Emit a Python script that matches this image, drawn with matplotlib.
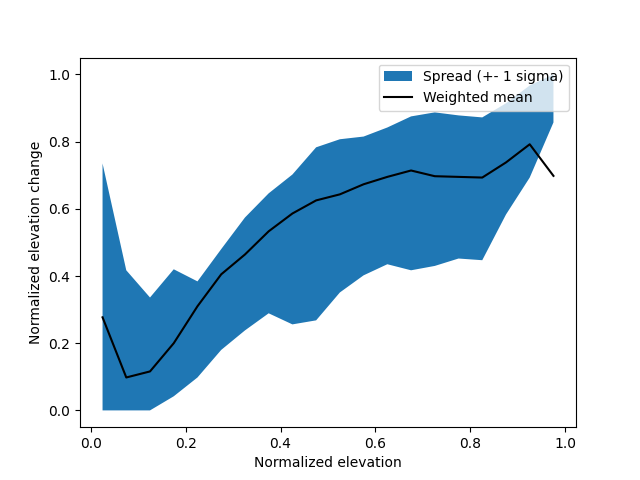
import matplotlib
matplotlib.use('Agg')
import matplotlib.pyplot as plt

elev = [0.025, 0.075, 0.125, 0.175, 0.225, 0.275, 0.325, 0.375, 0.425, 0.475,
        0.525, 0.575, 0.625, 0.675, 0.725, 0.775, 0.825, 0.875, 0.925, 0.975]
mean = [0.277, 0.098, 0.116, 0.200, 0.310, 0.405, 0.464, 0.533, 0.586, 0.625,
        0.643, 0.673, 0.695, 0.714, 0.697, 0.695, 0.693, 0.738, 0.792, 0.698]
upper = [0.735, 0.417, 0.336, 0.420, 0.384, 0.480, 0.574, 0.646, 0.702, 0.783,
         0.807, 0.815, 0.842, 0.875, 0.887, 0.878, 0.872, 0.914, 0.967, 1.000]
lower = [0.000, 0.000, 0.000, 0.042, 0.098, 0.180, 0.238, 0.289, 0.256, 0.268,
         0.351, 0.402, 0.435, 0.417, 0.430, 0.452, 0.447, 0.583, 0.693, 0.857]

fig, ax = plt.subplots(figsize=(6.4, 4.8), dpi=100)
ax.fill_between(elev, lower, upper, label='Spread (+- 1 sigma)')
ax.plot(elev, mean, 'k', label='Weighted mean')
ax.set_xlabel('Normalized elevation')
ax.set_ylabel('Normalized elevation change')
ax.legend(loc='upper right')
fig.savefig('out.png')
